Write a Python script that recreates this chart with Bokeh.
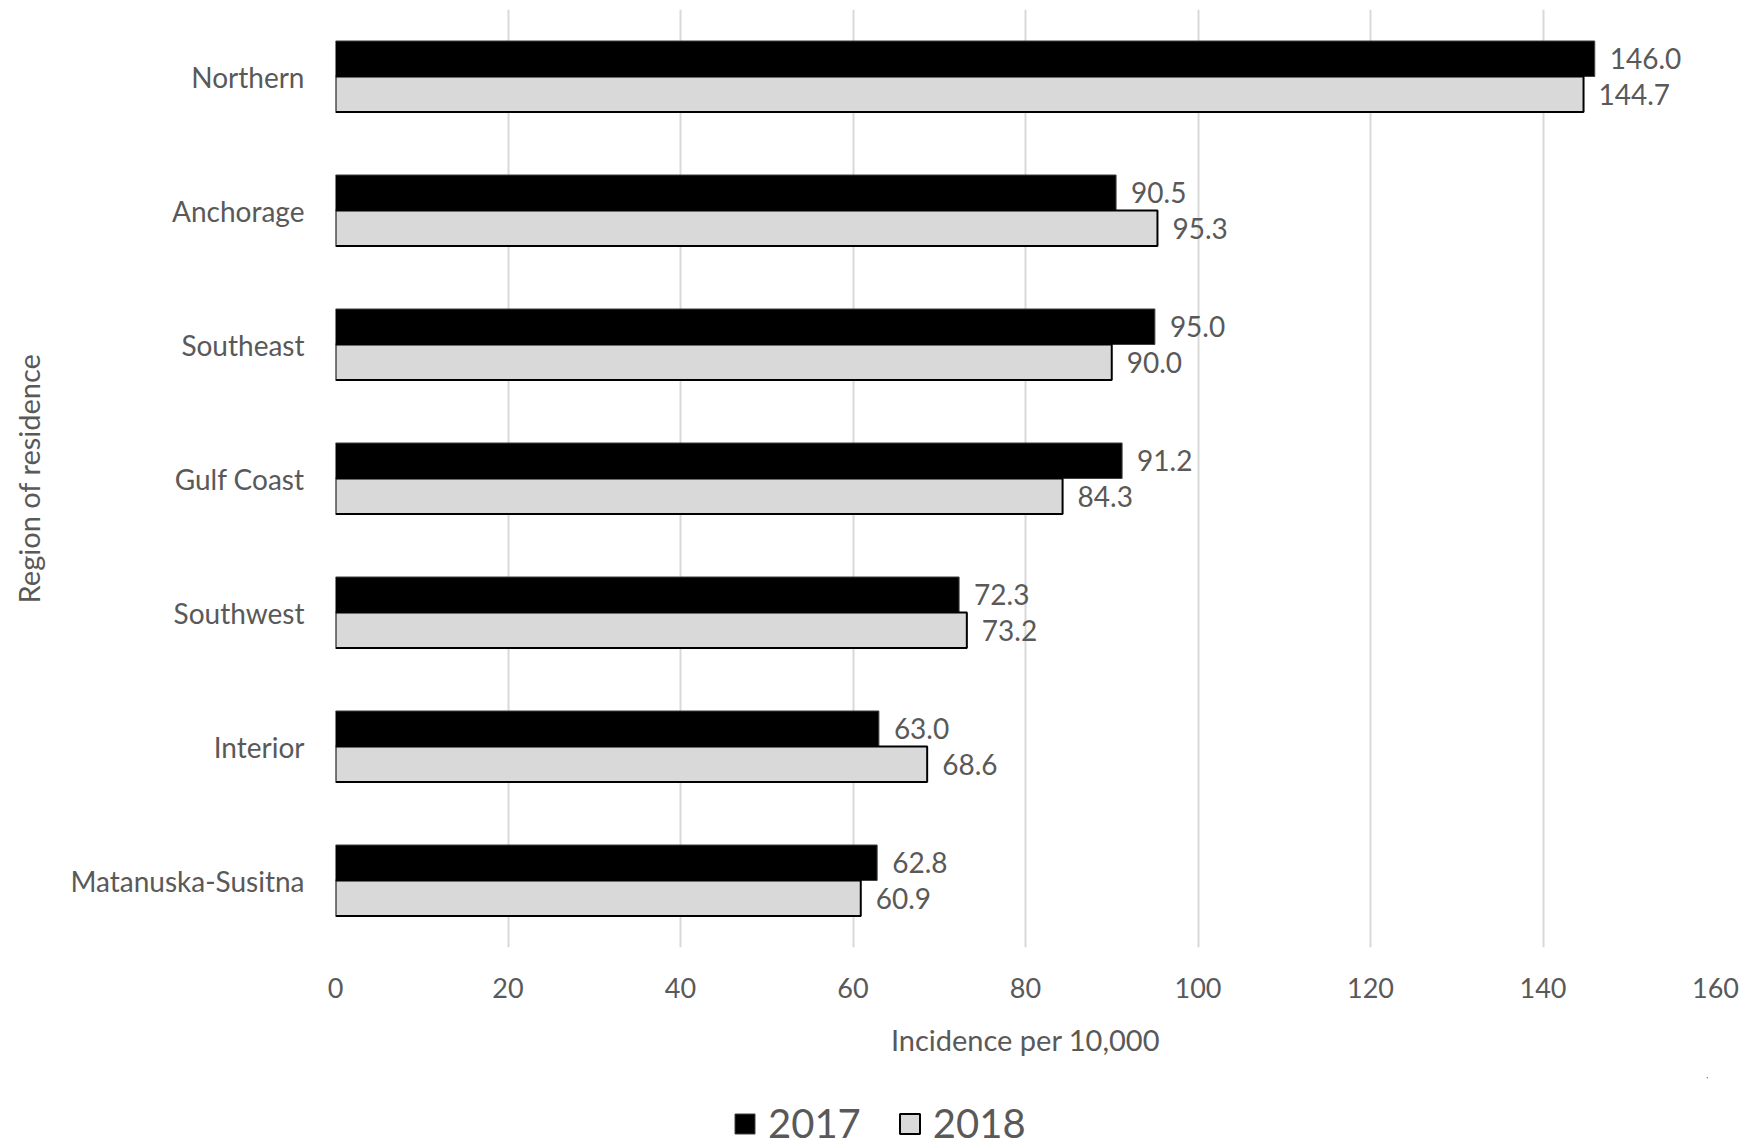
from bokeh.plotting import figure
from bokeh.layouts import column
from bokeh.models import ColumnDataSource, FactorRange, Range1d, FixedTicker, Legend, LegendItem
from bokeh.transform import dodge
from bokeh.core.properties import value
from bokeh.embed import file_html
from bokeh.resources import INLINE

regions = ["Northern", "Anchorage", "Southeast", "Gulf Coast", "Southwest", "Interior", "Matanuska-Susitna"]
v2017 = [146.0, 90.5, 95.0, 91.2, 72.3, 63.0, 62.8]
v2018 = [144.7, 95.3, 90.0, 84.3, 73.2, 68.6, 60.9]
x_ticks = [0, 20, 40, 60, 80, 100, 120, 140, 160]
series_names = ["2017", "2018"]

FONT = "Lato"
TXT = "#595959"
C2017 = dict(fill_color="black", line_color="#404040", line_width=1)
C2018 = dict(fill_color="#d9d9d9", line_color="black", line_width=2)

src = ColumnDataSource(dict(
    region=regions,
    v2017=v2017,
    v2018=v2018,
    l2017=["%.1f" % v for v in v2017],
    l2018=["%.1f" % v for v in v2018],
))

p = figure(
    frame_width=1380, frame_height=938,
    y_range=FactorRange(factors=regions[::-1], range_padding=0),
    x_range=Range1d(0, 160),
    output_backend="svg", toolbar_location=None,
    min_border_left=335, min_border_right=27, min_border_top=9, min_border_bottom=130,
)
p.outline_line_color = None
p.background_fill_color = "white"
p.border_fill_color = "white"

off = 0.1325
bh = 0.265
p.hbar(y=dodge("region", off, range=p.y_range), left=0, right="v2017", height=bh,
       source=src, **C2017)
p.hbar(y=dodge("region", -off, range=p.y_range), left=0, right="v2018", height=bh,
       source=src, **C2018)

p.text(x="v2017", y=dodge("region", off, range=p.y_range), text="l2017", source=src,
       x_offset=15, text_baseline="middle", text_align="left",
       text_font=value(FONT), text_font_size="28px", text_color=TXT)
p.text(x="v2018", y=dodge("region", -off, range=p.y_range), text="l2018", source=src,
       x_offset=15, text_baseline="middle", text_align="left",
       text_font=value(FONT), text_font_size="28px", text_color=TXT)

# grid
p.xgrid.grid_line_color = "#d9d9d9"
p.xgrid.grid_line_width = 2
p.ygrid.grid_line_color = None

# x axis
p.xaxis.ticker = FixedTicker(ticks=x_ticks)
p.xaxis.axis_line_color = None
p.xaxis.major_tick_line_color = None
p.xaxis.minor_tick_line_color = None
p.xaxis.major_tick_out = 0
p.xaxis.major_tick_in = 0
p.xaxis.major_label_standoff = 30
p.xaxis.major_label_text_font = FONT
p.xaxis.major_label_text_font_size = "27px"
p.xaxis.major_label_text_color = TXT
p.xaxis.axis_label = "Incidence per 10,000"
p.xaxis.axis_label_text_font = FONT
p.xaxis.axis_label_text_font_size = "29px"
p.xaxis.axis_label_text_font_style = "normal"
p.xaxis.axis_label_text_color = TXT
p.xaxis.axis_label_standoff = 21

# y axis
p.yaxis.axis_line_color = None
p.yaxis.major_tick_line_color = None
p.yaxis.minor_tick_line_color = None
p.yaxis.major_tick_out = 0
p.yaxis.major_tick_in = 0
p.yaxis.major_label_standoff = 31
p.yaxis.major_label_text_font = FONT
p.yaxis.major_label_text_font_size = "28px"
p.yaxis.major_label_text_color = TXT
p.yaxis.axis_label = "Region of residence"
p.yaxis.axis_label_text_font = FONT
p.yaxis.axis_label_text_font_size = "29px"
p.yaxis.axis_label_text_font_style = "normal"
p.yaxis.axis_label_text_color = TXT
p.yaxis.axis_label_standoff = 21

# legend strip below the chart
lg = figure(width=1734, height=1147 - (9 + 938 + 130),
            x_range=Range1d(0, 1), y_range=Range1d(0, 1),
            output_backend="svg", toolbar_location=None,
            min_border=0)
lg.axis.visible = False
lg.grid.grid_line_color = None
lg.outline_line_color = None
# swatch-only renderers (their single point lies outside the visible range)
swatch = ColumnDataSource(dict(y=[5], right=[5], left=[4]))
d1 = lg.hbar(y="y", right="right", left="left", height=0.1, source=swatch, **C2017)
d2 = lg.hbar(y="y", right="right", left="left", height=0.1, source=swatch, **C2018)

legend = Legend(
    items=[LegendItem(label=series_names[0], renderers=[d1]),
           LegendItem(label=series_names[1], renderers=[d2])],
    orientation="horizontal",
    location=(397, 0),
    label_text_font=FONT, label_text_font_size="40px", label_text_color=TXT,
    label_height=34,
    glyph_width=25, glyph_height=25, label_standoff=11, spacing=36,
    border_line_color=None, background_fill_alpha=0, padding=0, margin=0,
)
lg.add_layout(legend)

layout = column(p, lg, spacing=0)
open("out.html", "w").write(file_html(layout, INLINE))
